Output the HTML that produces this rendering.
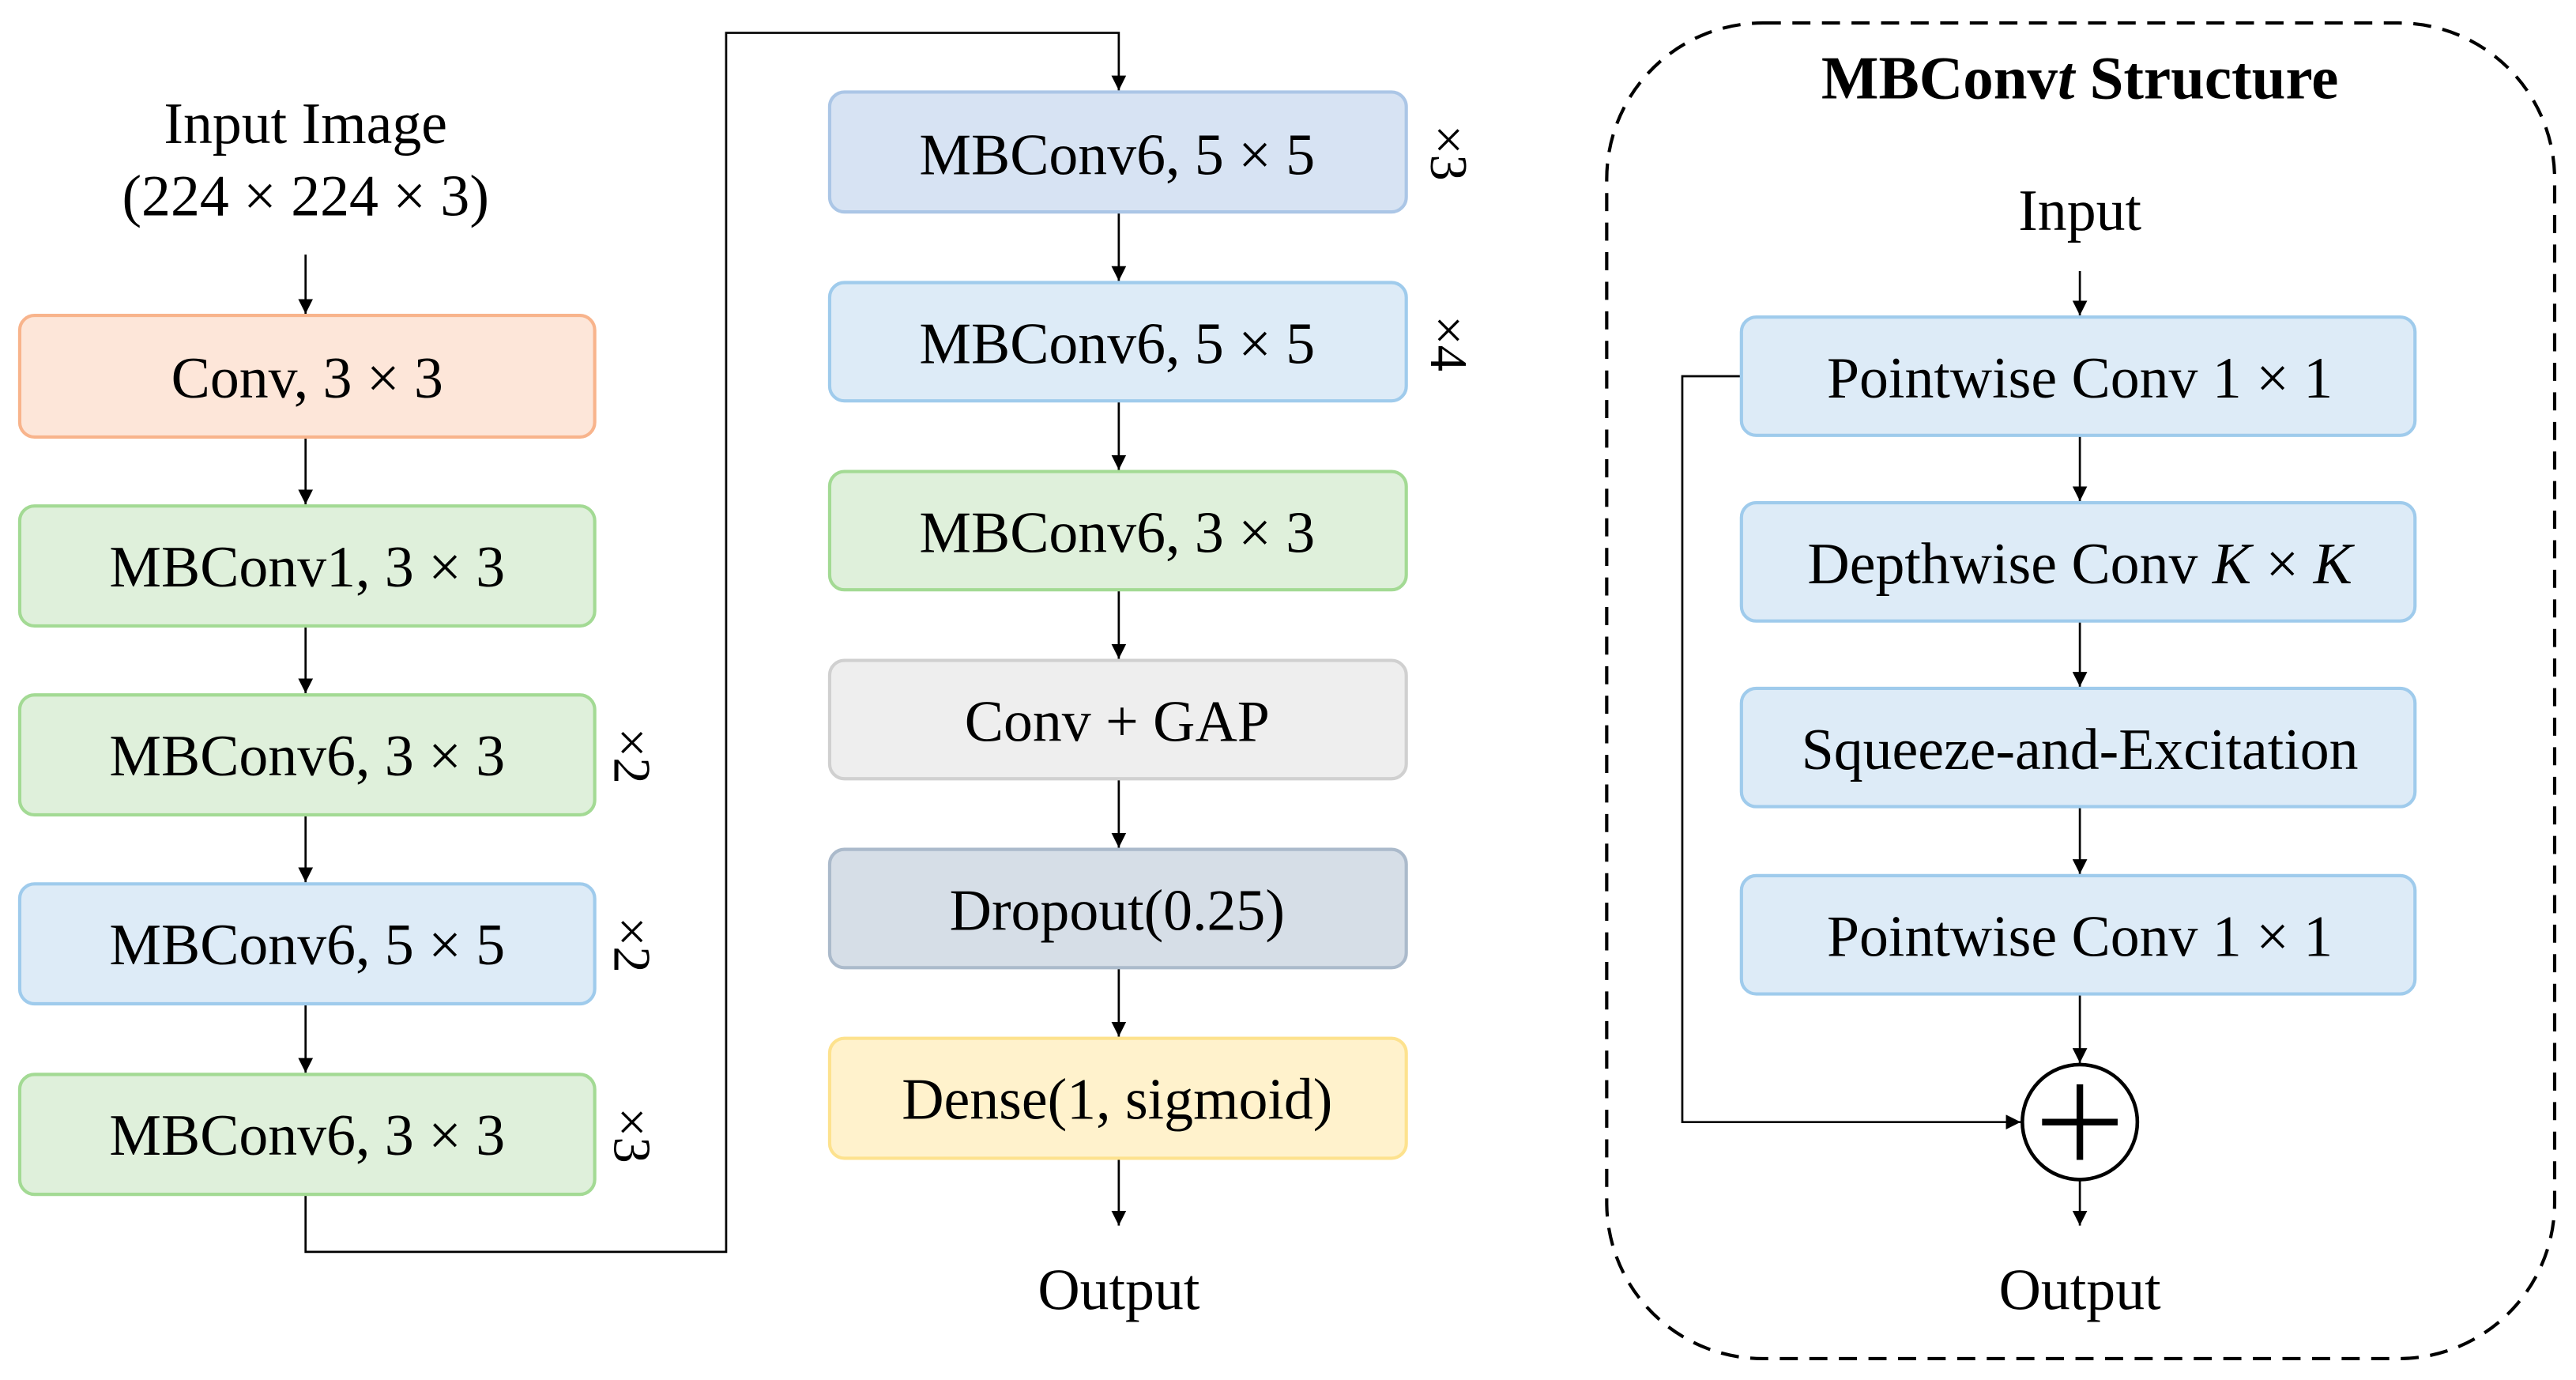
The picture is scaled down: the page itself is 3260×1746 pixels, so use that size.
<!DOCTYPE html>
<html><head><meta charset="utf-8"><style>html,body{margin:0;padding:0;background:#fff}svg{display:block}text{font-family:"Liberation Serif",serif;fill:#000}</style></head>
<body>
<svg width="3260" height="1746" viewBox="0 0 1568 840" preserveAspectRatio="none" xmlns="http://www.w3.org/2000/svg">
<defs><marker id="a" viewBox="0 0 10 10" refX="10" refY="5" markerWidth="9" markerHeight="9" markerUnits="userSpaceOnUse" orient="auto"><path d="M0,0L10,5L0,10z" fill="#000"/></marker></defs>
<g font-size="35.5" text-anchor="middle">
<text x="186" y="87">Input Image</text>
<text x="186" y="131">(224 × 224 × 3)</text>
</g>
<g stroke="#000" stroke-width="1.3" fill="none" marker-end="url(#a)">
<line x1="186" y1="155" x2="186" y2="191"/>
<line x1="186" y1="266" x2="186" y2="307"/>
<line x1="186" y1="381" x2="186" y2="422"/>
<line x1="186" y1="496" x2="186" y2="537"/>
<line x1="186" y1="611" x2="186" y2="653"/>
<polyline points="186,727 186,762 442,762 442,20 681,20 681,55"/>
<line x1="681" y1="129" x2="681" y2="171"/>
<line x1="681" y1="244" x2="681" y2="286"/>
<line x1="681" y1="359" x2="681" y2="401"/>
<line x1="681" y1="474" x2="681" y2="516"/>
<line x1="681" y1="589" x2="681" y2="631"/>
<line x1="681" y1="705" x2="681" y2="746"/>
<line x1="1266" y1="165" x2="1266" y2="192"/>
<line x1="1266" y1="265" x2="1266" y2="305"/>
<line x1="1266" y1="378" x2="1266" y2="418"/>
<line x1="1266" y1="491" x2="1266" y2="532"/>
<line x1="1266" y1="605" x2="1266" y2="647"/>
<line x1="1266" y1="719" x2="1266" y2="746"/>
<polyline points="1060,229 1024,229 1024,683 1230,683"/>
</g>
<g stroke-width="2">
<rect x="12" y="192" width="350" height="74" rx="9" fill="#fde6d9" stroke="#f8b48c"/>
<rect x="12" y="308" width="350" height="73" rx="9" fill="#dff0db" stroke="#a3da94"/>
<rect x="12" y="423" width="350" height="73" rx="9" fill="#dff0db" stroke="#a3da94"/>
<rect x="12" y="538" width="350" height="73" rx="9" fill="#ddebf7" stroke="#9fcbec"/>
<rect x="12" y="654" width="350" height="73" rx="9" fill="#dff0db" stroke="#a3da94"/>
<rect x="505" y="56" width="351" height="73" rx="9" fill="#d7e3f3" stroke="#abc6e6"/>
<rect x="505" y="172" width="351" height="72" rx="9" fill="#ddebf7" stroke="#9fcbec"/>
<rect x="505" y="287" width="351" height="72" rx="9" fill="#dff0db" stroke="#a3da94"/>
<rect x="505" y="402" width="351" height="72" rx="9" fill="#eeeeee" stroke="#d0d0d0"/>
<rect x="505" y="517" width="351" height="72" rx="9" fill="#d6dee7" stroke="#abbacb"/>
<rect x="505" y="632" width="351" height="73" rx="9" fill="#fff2cc" stroke="#fde28e"/>
<rect x="1060" y="193" width="410" height="72" rx="9" fill="#ddebf7" stroke="#9fcbec"/>
<rect x="1060" y="306" width="410" height="72" rx="9" fill="#ddebf7" stroke="#9fcbec"/>
<rect x="1060" y="419" width="410" height="72" rx="9" fill="#ddebf7" stroke="#9fcbec"/>
<rect x="1060" y="533" width="410" height="72" rx="9" fill="#ddebf7" stroke="#9fcbec"/>
</g>
<rect x="978" y="14" width="577" height="813" rx="95" fill="none" stroke="#000" stroke-width="2" stroke-dasharray="11,7"/>
<circle cx="1266" cy="683" r="35" fill="#fff" stroke="#000" stroke-width="2.2"/>
<line x1="1243" y1="683" x2="1289" y2="683" stroke="#000" stroke-width="4"/>
<line x1="1266" y1="660" x2="1266" y2="706" stroke="#000" stroke-width="4"/>
<g font-size="35.5" text-anchor="middle">
<text x="187" y="242">Conv, 3 × 3</text>
<text x="187" y="357">MBConv1, 3 × 3</text>
<text x="187" y="472">MBConv6, 3 × 3</text>
<text x="187" y="587">MBConv6, 5 × 5</text>
<text x="187" y="703">MBConv6, 3 × 3</text>
<text x="680" y="106">MBConv6, 5 × 5</text>
<text x="680" y="221">MBConv6, 5 × 5</text>
<text x="680" y="336">MBConv6, 3 × 3</text>
<text x="680" y="451">Conv + GAP</text>
<text x="680" y="566">Dropout(0.25)</text>
<text x="680" y="681">Dense(1, sigmoid)</text>
<text x="681" y="797">Output</text>
<text x="1266" y="140">Input</text>
<text x="1266" y="242">Pointwise Conv 1 × 1</text>
<text x="1266" y="355">Depthwise Conv <tspan font-style="italic">K</tspan> × <tspan font-style="italic">K</tspan></text>
<text x="1266" y="468">Squeeze-and-Excitation</text>
<text x="1266" y="582">Pointwise Conv 1 × 1</text>
<text x="1266" y="797">Output</text>
<text x="1266" y="60" font-weight="bold" font-size="37">MBConv<tspan font-style="italic">t</tspan> Structure</text>
</g>
<g font-size="32">
<text transform="translate(374,443) rotate(90)">×2</text>
<text transform="translate(374,558) rotate(90)">×2</text>
<text transform="translate(374,674) rotate(90)">×3</text>
<text transform="translate(871,76) rotate(90)">×3</text>
<text transform="translate(871,192) rotate(90)">×4</text>
</g>
</svg>
</body></html>
